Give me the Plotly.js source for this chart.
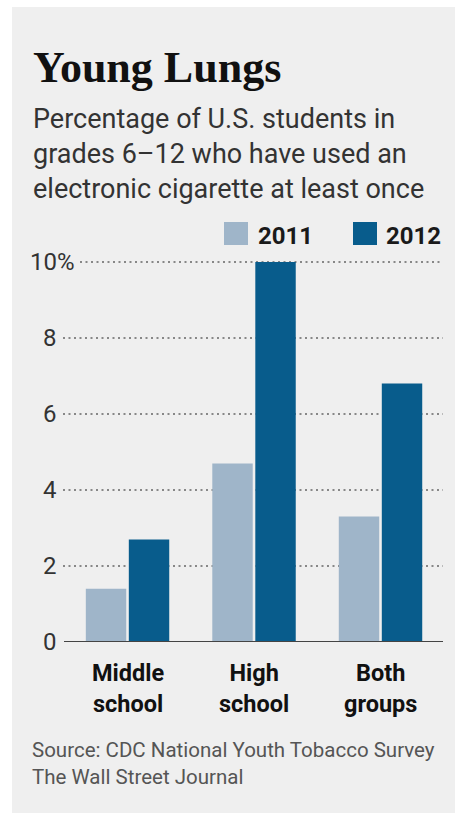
<!DOCTYPE html>
<html>
<head>
<meta charset="utf-8">
<script src="https://cdn.plot.ly/plotly-3.0.1.min.js"></script>
<style>
  html, body { margin: 0; padding: 0; background: #ffffff; }
  #chart { width: 457px; height: 814px; }
</style>
</head>
<body>
<div id="chart"></div>
<script>
// ---- data ----
var categories = ['Middle school', 'High school', 'Both groups'];
var seriesNames = ['2011', '2012'];
var values2011 = [1.4, 4.7, 3.3];
var values2012 = [2.7, 10.0, 6.8];
var yTickVals = [0, 2, 4, 6, 8, 10];
var yTickText = ['0', '2', '4', '6', '8', '10'];
var titleText = 'Young Lungs';
var subtitleLines = ['Percentage of U.S. students in', 'grades 6\u201312 who have used an', 'electronic cigarette at least once'];
var sourceLines = ['Source: CDC National Youth Tobacco Survey', 'The Wall Street Journal'];

// ---- geometry helpers (pixel -> paper), plot area: x 62..443, y 243..642 ----
var W = 457, H = 814;
var mL = 62, mR = 14, mT = 243, mB = 172;
var pw = W - mL - mR, ph = H - mT - mB;
function px(X) { return (X - mL) / pw; }
function py(Y) { return (H - mB - Y) / ph; }

var colors = ['#9fb5c9', '#085c8c'];
var SANS = 'Roboto, "Open Sans", "DejaVu Sans", sans-serif';

var traces = [
  { type: 'bar', name: seriesNames[0], x: categories, y: values2011,
    marker: { color: colors[0] }, showlegend: false, hoverinfo: 'skip' },
  { type: 'bar', name: seriesNames[1], x: categories, y: values2012,
    marker: { color: colors[1] }, showlegend: false, hoverinfo: 'skip' }
];

var shapes = [];
// panel background
shapes.push({ type: 'rect', xref: 'paper', yref: 'paper', layer: 'below',
  x0: px(12), x1: px(455), y0: py(813), y1: py(7),
  fillcolor: '#efefef', line: { width: 0 } });
// dotted gridlines
yTickVals.forEach(function (v) {
  if (v === 0) return;
  shapes.push({ type: 'line', xref: 'paper', yref: 'y', layer: 'below',
    x0: v === 10 ? px(80) : px(63), x1: px(443), y0: v, y1: v,
    line: { color: '#666666', width: 1.5, dash: '2px,3.5px' } });
});
// baseline
shapes.push({ type: 'line', xref: 'paper', yref: 'y', layer: 'above',
  x0: px(64), x1: px(443), y0: 0, y1: 0,
  line: { color: '#444444', width: 2.2 } });
// legend swatches
shapes.push({ type: 'rect', xref: 'paper', yref: 'paper',
  x0: px(224), x1: px(248), y0: py(245), y1: py(222),
  fillcolor: colors[0], line: { width: 0 } });
shapes.push({ type: 'rect', xref: 'paper', yref: 'paper',
  x0: px(353), x1: px(377), y0: py(245), y1: py(222),
  fillcolor: colors[1], line: { width: 0 } });

var annotations = [];
// y tick labels
yTickVals.forEach(function (v, i) {
  annotations.push({ xref: 'paper', yref: 'y', x: px(59), y: v,
    xanchor: 'right', yanchor: 'middle', showarrow: false,
    text: yTickText[i], font: { family: SANS, size: 24, color: '#333333' } });
});
annotations.push({ xref: 'paper', yref: 'y', x: px(55), y: 10,
  xanchor: 'left', yanchor: 'middle', showarrow: false,
  text: '%', font: { family: SANS, size: 24, color: '#333333' } });
// category labels (two lines each, one text)
categories.forEach(function (c) {
  annotations.push({ xref: 'x', yref: 'paper', x: c, y: py(688),
    xanchor: 'center', yanchor: 'middle', align: 'center', showarrow: false,
    text: c.split(' ').join('<br>'),
    font: { family: SANS, size: 23.5, color: '#111111', weight: 'bold' } });
});
// legend text
annotations.push({ xref: 'paper', yref: 'paper', x: px(256), y: py(236.5),
  xanchor: 'left', yanchor: 'middle', showarrow: false,
  text: seriesNames[0], font: { family: SANS, size: 24, color: '#1a1a1a', weight: 'bold' } });
annotations.push({ xref: 'paper', yref: 'paper', x: px(384), y: py(236.5),
  xanchor: 'left', yanchor: 'middle', showarrow: false,
  text: seriesNames[1], font: { family: SANS, size: 24, color: '#1a1a1a', weight: 'bold' } });
// subtitle
annotations.push({ xref: 'paper', yref: 'paper', x: px(31), y: py(153.5),
  xanchor: 'left', yanchor: 'middle', align: 'left', showarrow: false,
  text: subtitleLines.join('<br>'), font: { family: SANS, size: 27, color: '#333333' } });
// source
annotations.push({ xref: 'paper', yref: 'paper', x: px(30), y: py(763.5),
  xanchor: 'left', yanchor: 'middle', align: 'left', showarrow: false,
  text: sourceLines.join('<br>'), font: { family: SANS, size: 20.5, color: '#555555' } });

var layout = {
  width: W, height: H,
  margin: { l: mL, r: mR, t: mT, b: mB, pad: 0 },
  paper_bgcolor: '#ffffff',
  plot_bgcolor: 'rgba(0,0,0,0)',
  title: { text: titleText, xref: 'container', yref: 'container',
    x: 33 / W, xanchor: 'left', y: 1 - 82 / H, yanchor: 'bottom',
    font: { family: '"Liberation Serif", "DejaVu Serif", serif', size: 44, color: '#111111', weight: 'bold' } },
  barmode: 'group',
  bargap: 0.32,
  bargroupgap: 0.06,
  showlegend: false,
  xaxis: { type: 'category', range: [-0.518, 2.494], showticklabels: false,
    showgrid: false, zeroline: false, showline: false, ticks: '', fixedrange: true },
  yaxis: { range: [0, 10.5], showticklabels: false, showgrid: false,
    zeroline: false, showline: false, ticks: '', tickvals: yTickVals, fixedrange: true },
  shapes: shapes,
  annotations: annotations
};

Plotly.newPlot('chart', traces, layout, { displayModeBar: false, staticPlot: true });
</script>
</body>
</html>
